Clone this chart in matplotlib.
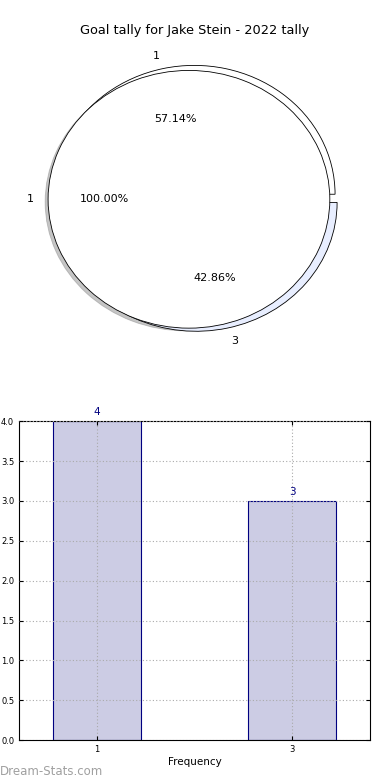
import numpy as np
import matplotlib
matplotlib.use('Agg')
import matplotlib.pyplot as plt

# data
title = "Goal tally for Jake Stein - 2022 tally"
all_labels = ['1']
all_counts = [7]
goal_labels = ['1', '3']
goal_counts = [4, 3]

fig = plt.figure(figsize=(3.9, 7.8), dpi=100)

### --- pie --- ###
ax1 = fig.add_axes([0.033, 0.538, 0.903, 0.413])
ax1.pie(goal_counts, labels=goal_labels, autopct='%1.2f%%', explode=[0.035, 0.03],
        center=(0.045, 0.005), colors=['white', '#e8eeff'],
        wedgeprops={'edgecolor': 'black', 'linewidth': 0.6},
        textprops={'fontsize': 8})
ax1.pie(all_counts, labels=all_labels, autopct='%1.2f%%',
        shadow={'ox': -0.015, 'oy': -0.015, 'shade': 0.45},
        colors=['white'], wedgeprops={'edgecolor': 'black', 'linewidth': 0.6},
        textprops={'fontsize': 8})
ax1.set_aspect('auto')
ax1.set_xlim(-1.25, 1.25)
ax1.set_ylim(-1.25, 1.25)
fig.text(0.5, 0.961, title, ha='center', va='center', fontsize=9.3)

### --- bars --- ###
ax2 = fig.add_axes([0.049, 0.051, 0.9, 0.409])
x = np.arange(len(goal_labels))
ax2.bar(x, goal_counts, width=0.45, color='#cccce4', edgecolor='navy', linewidth=0.8, zorder=2)
for xi, v in zip(x, goal_counts):
    ax2.text(xi, v + 0.05, str(v), ha='center', va='bottom', color='navy', fontsize=7.5)
ax2.set_xticks(x)
ax2.set_xticklabels(goal_labels)
ax2.set_xlim(-0.4, 1.4)
ax2.set_ylim(0, 4)
ax2.set_yticks(np.arange(0, 4.01, 0.5))
ax2.grid(True, linestyle=(0, (1, 2)), color='#aaaaaa', linewidth=0.8, zorder=3)
ax2.set_axisbelow(False)
ax2.tick_params(labelsize=6, direction='in', top=True, right=True, length=3)
ax2.set_xlabel('Frequency', fontsize=7.5, labelpad=2)

fig.text(0.0, 0.006, 'Dream-Stats.com', fontsize=8.5, color='#a0a0a0')

fig.savefig('out.png', dpi=100)
